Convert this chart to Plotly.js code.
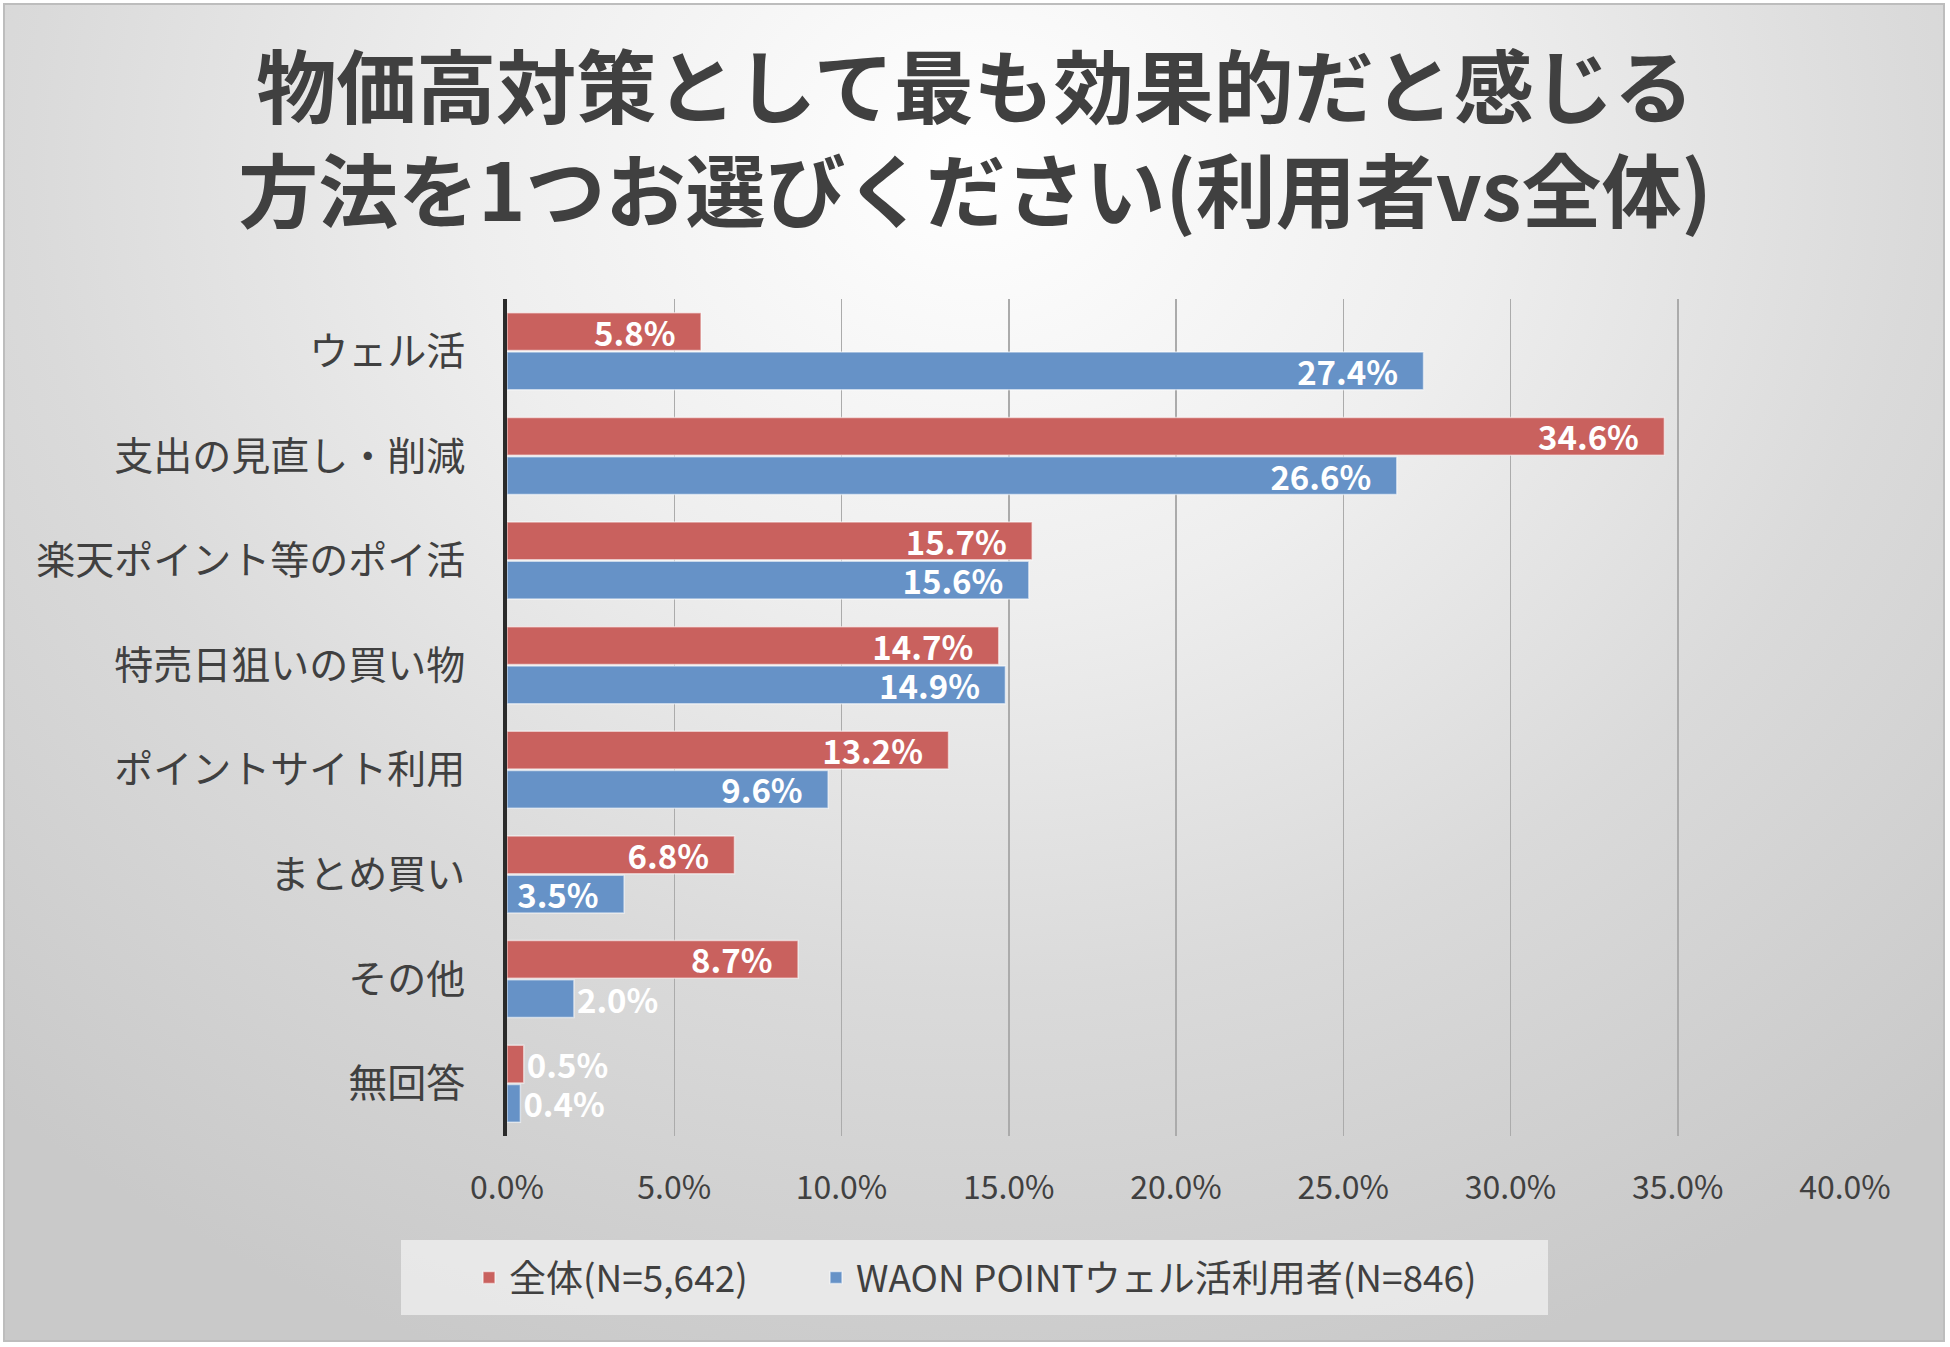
<!DOCTYPE html>
<html>
<head>
<meta charset="utf-8">
<script src="https://cdn.plot.ly/plotly-3.0.1.min.js"></script>
<style>
  html, body { margin: 0; padding: 0; background: #ffffff; }
  #wrap { position: relative; width: 1950px; height: 1347px; overflow: hidden; }
  #bg { position: absolute; left: 3px; top: 3px; width: 1938px; height: 1335px;
        border: 2px solid #bdbdbd;
        background: radial-gradient(ellipse 75% 95% at 50% 12%, #ffffff 0%, #eeeeee 35%, #dadada 65%, #c9c9c9 100%); }
  #chart { position: absolute; left: 0; top: 0; width: 1950px; height: 1347px; }
</style>
</head>
<body>
<div id="wrap">
  <div id="bg"></div>
  <div id="chart"></div>
</div>
<script>
const categories = ["ウェル活", "支出の見直し・削減", "楽天ポイント等のポイ活", "特売日狙いの買い物", "ポイントサイト利用", "まとめ買い", "その他", "無回答"];
const seriesNames = ["全体(N=5,642)", "WAON POINTウェル活利用者(N=846)"];
const totalValues = [5.8, 34.6, 15.7, 14.7, 13.2, 6.8, 8.7, 0.5];
const userValues = [27.4, 26.6, 15.6, 14.9, 9.6, 3.5, 2.0, 0.4];
const xTickValues = [0, 5, 10, 15, 20, 25, 30, 35, 40];
const xTickLabels = ["0.0%", "5.0%", "10.0%", "15.0%", "20.0%", "25.0%", "30.0%", "35.0%", "40.0%"];
const titleText = "物価高対策として最も効果的だと感じる<br>方法を1つお選びください(利用者vs全体)";

const FONT = "'Noto Sans CJK JP', 'Noto Sans', sans-serif";
const posFor = v => (v >= 3 ? "inside" : "outside");
const PAD = "\u00a0\u00a0\u00a0";

function barTrace(name, values, color, legendId) {
  return {
    type: "bar",
    orientation: "h",
    name: name,
    legend: legendId,
    y: categories,
    x: values,
    marker: { color: color, line: { color: "rgba(255,255,255,0.55)", width: 1.5 } },
    texttemplate: "%{x:.1f}%" + PAD,
    textposition: values.map(posFor),
    insidetextanchor: "end",
    constraintext: "none",
    cliponaxis: false,
    textfont: { family: FONT, size: 33, color: "#ffffff", weight: "bold" },
    insidetextfont: { family: FONT, size: 33, color: "#ffffff", weight: "bold" },
    outsidetextfont: { family: FONT, size: 33, color: "#ffffff", weight: "bold" },
    hoverinfo: "skip"
  };
}

const data = [
  barTrace(seriesNames[0], totalValues, "#c9615e", "legend"),
  barTrace(seriesNames[1], userValues, "#6692c7", "legend2")
];

const legendBase = {
  orientation: "h",
  xref: "container", xanchor: "left",
  y: 1 - 1278 / 1347, yref: "container", yanchor: "middle",
  bgcolor: "rgba(0,0,0,0)",
  font: { family: FONT, size: 37, color: "#404040" },
  itemwidth: 30
};

const layout = {
  width: 1950,
  height: 1347,
  paper_bgcolor: "rgba(0,0,0,0)",
  plot_bgcolor: "rgba(0,0,0,0)",
  margin: { l: 507, r: 105, t: 299, b: 211, pad: 0 },
  font: { family: FONT, color: "#404040" },
  title: {
    text: titleText,
    font: { family: FONT, size: 80, color: "#404040", weight: "bold" },
    x: 0.5, xref: "container", xanchor: "center",
    y: 1 - 117 / 1347, yref: "container", yanchor: "middle"
  },
  barmode: "group",
  bargap: 0.25,
  bargroupgap: 0.04,
  xaxis: {
    range: [0, 40],
    tickvals: xTickValues,
    ticktext: xTickLabels,
    showgrid: true,
    gridcolor: "#ababab",
    gridwidth: 1.5,
    zeroline: false,
    showline: false,
    ticks: "outside",
    ticklen: 24,
    tickcolor: "rgba(0,0,0,0)",
    tickfont: { family: FONT, size: 32, color: "#404040" },
    fixedrange: true
  },
  yaxis: {
    autorange: "reversed",
    showgrid: false,
    zeroline: false,
    showline: true,
    linecolor: "#2a2a2a",
    linewidth: 4,
    ticks: "outside",
    ticklen: 30,
    tickcolor: "rgba(0,0,0,0)",
    tickfont: { family: FONT, size: 39, color: "#404040" },
    fixedrange: true
  },
  showlegend: true,
  legend: Object.assign({}, legendBase, { x: 469 / 1950 }),
  legend2: Object.assign({}, legendBase, { x: 816 / 1950 }),
  shapes: [{
    type: "rect", layer: "below",
    xref: "paper", yref: "paper",
    x0: (401 - 507) / 1338, x1: (1548 - 507) / 1338,
    y0: (1136 - 1315) / 837, y1: (1136 - 1240) / 837,
    fillcolor: "rgba(236,236,236,0.85)",
    line: { width: 0 }
  }]
};

Plotly.newPlot("chart", data, layout, { displayModeBar: false, staticPlot: true });
</script>
</body>
</html>
